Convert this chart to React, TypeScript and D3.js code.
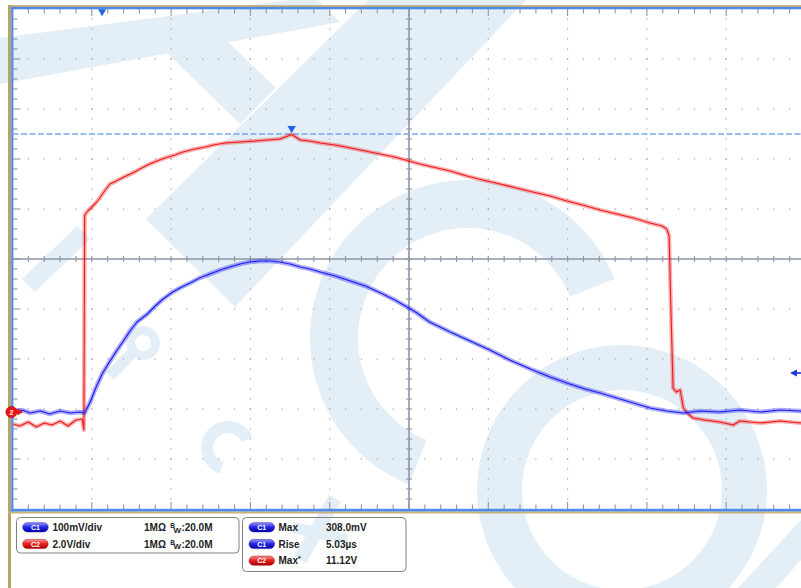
import React from 'react';
import * as d3 from 'd3';

// ---------------- data (time in divisions, C1 in mV, C2 in V) ----------------
const c1Trace: [number, number][] = [
  [0.01, 0], [0.12, 4], [0.22, -2], [0.35, 2], [0.47, -4], [0.6, 2], [0.73, -2], [0.85, 0], [0.91, -2],
  [0.98, 20], [1.05, 48], [1.13, 76], [1.23, 102], [1.32, 124], [1.39, 140], [1.48, 162], [1.57, 180],
  [1.7, 196], [1.8, 212], [1.9, 226], [2.02, 240], [2.11, 248], [2.24, 258], [2.36, 268], [2.49, 276],
  [2.62, 284], [2.74, 290], [2.87, 296], [2.99, 300], [3.12, 302], [3.25, 302], [3.37, 300], [3.5, 296],
  [3.63, 290], [3.75, 286], [3.88, 280], [4.07, 272], [4.26, 262], [4.45, 252], [4.67, 236], [4.82, 224],
  [5.0, 208], [5.1, 198], [5.26, 180], [5.52, 160], [5.77, 142], [6.02, 124], [6.27, 104], [6.56, 84],
  [6.78, 70], [6.99, 58], [7.22, 46], [7.41, 38], [7.62, 28], [7.83, 18], [8.04, 8], [8.25, 2],
  [8.46, -2], [8.67, 2], [8.92, 0], [9.17, 4], [9.43, 0], [9.68, 4], [9.93, 2], [10.0, 0],
];

const c2Trace: [number, number][] = [
  [0.01, -0.48], [0.09, -0.56], [0.2, -0.4], [0.3, -0.6], [0.4, -0.44], [0.5, -0.52], [0.6, -0.36],
  [0.7, -0.56], [0.8, -0.32], [0.88, -0.28], [0.9, -0.72], [0.91, 7.88], [0.95, 8.04], [1.0, 8.2],
  [1.05, 8.36], [1.1, 8.56], [1.17, 8.88], [1.23, 9.12], [1.31, 9.24], [1.38, 9.36], [1.46, 9.48],
  [1.54, 9.6], [1.63, 9.76], [1.73, 9.92], [1.82, 10.04], [1.92, 10.16], [2.05, 10.28], [2.15, 10.4],
  [2.3, 10.52], [2.43, 10.6], [2.53, 10.68], [2.68, 10.76], [2.87, 10.8], [3.06, 10.84], [3.21, 10.88],
  [3.37, 10.92], [3.52, 11.1], [3.63, 10.88], [3.75, 10.84], [3.88, 10.76], [4.07, 10.68], [4.26, 10.56],
  [4.45, 10.44], [4.63, 10.32], [4.82, 10.2], [5.0, 10.04], [5.14, 9.92], [5.3, 9.8], [5.52, 9.64],
  [5.73, 9.44], [5.93, 9.28], [6.15, 9.12], [6.36, 8.96], [6.56, 8.8], [6.78, 8.64], [6.99, 8.44],
  [7.19, 8.28], [7.41, 8.08], [7.62, 7.92], [7.83, 7.76], [8.04, 7.56], [8.19, 7.44], [8.25, 7.32],
  [8.28, 7.04], [8.3, 4.48], [8.33, 0.96], [8.37, 0.8], [8.42, 0.88], [8.46, 0.16], [8.52, -0.08],
  [8.58, -0.24], [8.73, -0.32], [8.92, -0.4], [9.09, -0.52], [9.17, -0.36], [9.43, -0.44], [9.68, -0.36],
  [9.93, -0.44], [10.0, -0.4],
];

const C1_PER_DIV = 100; // mV/div
const C2_PER_DIV = 2; // V/div
const TRIGGER_TIME_DIV = 1.13;
const TRIGGER_LEVEL_MV = 78;
const MAX_CURSOR_V = 11.12;
const MAX_TIME_DIV = 3.52;

const chLabels = ['C1', 'C2'];
const chScales = ['100mV/div', '2.0V/div'];
const chImpedance = ['1MΩ', '1MΩ'];
const chBandwidth = ['20.0M', '20.0M'];

const measChannels = ['C1', 'C1', 'C2'];
const measNames = ['Max', 'Rise', 'Max'];
const measStar = [false, false, true];
const measValues = ['308.0mV', '5.03µs', '11.12V'];

// ---------------- layout ----------------
const W = 801, H = 588;
const X0 = 12.5, DIV_W = 79.3, Y0 = 9, DIV_H = 50;
const X1 = X0 + 10 * DIV_W;
const Y1 = Y0 + 10 * DIV_H;
const GND_Y = 412;
const gndDiv = (GND_Y - Y0) / DIV_H;

const xScale = d3.scaleLinear().domain([0, 10]).range([X0, X1]);
const yC1 = d3.scaleLinear().domain([-(10 - gndDiv) * C1_PER_DIV, gndDiv * C1_PER_DIV]).range([Y1, Y0]);
const yC2 = d3.scaleLinear().domain([-(10 - gndDiv) * C2_PER_DIV, gndDiv * C2_PER_DIV]).range([Y1, Y0]);

const WM = '#e3eef7';
const GRID = '#8d96a6';
const DOT = '#a3a3a3';
const BLUE_TRACE = '#1c1cf0';
const RED_TRACE = '#f01818';
const FONT = "'Liberation Sans', Arial, sans-serif";

const rad = (a: number) => (a * Math.PI) / 180;

function Badge({ x, cy, ch }: { x: number; cy: number; ch: string }) {
  const grad = ch === 'C1' ? 'url(#gBlue)' : 'url(#gRed)';
  return (
    <g>
      <rect x={x} y={cy - 4.6} width={25.5} height={9.2} rx={4.6} fill={grad} stroke={ch === 'C1' ? '#1010a0' : '#a01010'} strokeWidth={0.5} />
      <text x={x + 12.75} y={cy + 2.6} fontSize={7} fontWeight="bold" fill="#fff" textAnchor="middle" fontFamily={FONT}>{ch}</text>
    </g>
  );
}

export default function App() {
  const arc = d3.arc();
  const line1 = d3.line<[number, number]>().x((d) => xScale(d[0])).y((d) => yC1(d[1]));
  const line2 = d3.line<[number, number]>().x((d) => xScale(d[0])).y((d) => yC2(d[1]));

  const ring = (r0: number, r1: number, a0: number, a1: number) =>
    (arc as any)({ innerRadius: r0, outerRadius: r1, startAngle: rad(a0), endAngle: rad(a1) }) as string;

  const poly = (pts: number[][]) => 'M' + pts.map((p) => p.join(',')).join('L') + 'Z';

  // grid dots
  const dots: JSX.Element[] = [];
  for (let i = 1; i < 10; i++) {
    if (i === 5) continue;
    for (let k = 1; k < 50; k++) {
      dots.push(<rect key={`v${i}-${k}`} x={xScale(i) - 0.6} y={Y0 + (k * DIV_H) / 5 - 0.6} width={1.2} height={1.2} fill={DOT} />);
      dots.push(<rect key={`h${i}-${k}`} x={X0 + (k * DIV_W) / 5 - 0.6} y={Y0 + i * DIV_H - 0.6} width={1.2} height={1.2} fill={DOT} />);
    }
  }
  // ticks
  const ticks: JSX.Element[] = [];
  const cx = xScale(5), cy = Y0 + 5 * DIV_H;
  for (let k = 1; k < 50; k++) {
    const tx = X0 + (k * DIV_W) / 5;
    const ty = Y0 + (k * DIV_H) / 5;
    const maj = k % 5 === 0;
    ticks.push(<line key={`t${k}`} x1={tx} x2={tx} y1={Y0} y2={Y0 + (maj ? 7 : 4.5)} />);
    ticks.push(<line key={`b${k}`} x1={tx} x2={tx} y1={Y1} y2={Y1 - (maj ? 7 : 4.5)} />);
    ticks.push(<line key={`l${k}`} x1={X0} x2={X0 + (maj ? 8 : 5)} y1={ty} y2={ty} />);
    ticks.push(<line key={`ch${k}`} x1={tx} x2={tx} y1={cy - 3} y2={cy + 3} />);
    ticks.push(<line key={`cv${k}`} x1={cx - 3} x2={cx + 3} y1={ty} y2={ty} />);
  }

  const rows1 = [527.3, 544];
  const rows2 = [527.3, 544, 560.7];

  return (
    <svg width={W} height={H} style={{ position: 'absolute', left: 0, top: 0, background: '#fff' }} fontFamily={FONT}>
      <defs>
        <linearGradient id="gBlue" x1="0" y1="0" x2="0" y2="1">
          <stop offset="0" stopColor="#9a9aff" />
          <stop offset="0.45" stopColor="#2a2ae8" />
          <stop offset="1" stopColor="#0000a8" />
        </linearGradient>
        <linearGradient id="gRed" x1="0" y1="0" x2="0" y2="1">
          <stop offset="0" stopColor="#ff9a9a" />
          <stop offset="0.45" stopColor="#ec2222" />
          <stop offset="1" stopColor="#a80000" />
        </linearGradient>
        <clipPath id="plotClip">
          <rect x={X0} y={Y0} width={X1 - X0} height={Y1 - Y0} />
        </clipPath>
      </defs>

      {/* watermark */}
      <g fill={WM} stroke="none">
        <path d={poly([[0, 38], [290, 0], [318, 0], [340, 22], [0, 84]])} />
        <path d={poly([[167, 53], [225, 39], [276, 88], [240, 124]])} />
        <path d={poly([[368, 0], [526, 0], [235, 307], [146, 219]])} />
        <path d={poly([[22, 279], [77, 226], [90, 239], [35, 292]])} />
        <path d={poly([[738, 588], [801, 520], [801, 560], [776, 588]])} />
        <path transform="translate(468,338)" d={ring(110, 158, 202, 428)} />
        <path transform="translate(622,490)" d={ring(100, 145, 0, 360)} />
        <path transform="translate(228,448)" d={ring(15, 27, 198, 426)} />
        <path transform="translate(143,343)" d={ring(8, 17, 0, 360)} />
        <path d={poly([[129, 348], [137, 356], [114, 380], [106, 372]])} />
        <path d={poly([[329, 495], [341, 502], [306, 563], [294, 556]])} />
        <path d={poly([[294, 522], [348, 534], [346, 545], [292, 533]])} />
      </g>

      {/* frame */}
      <rect x={8} y={5.3} width={W - 8} height={1.6} fill="#b9a265" />
      <rect x={8} y={5.3} width={3} height={H - 5.3} fill="#b9a265" />
      <rect x={8} y={511.5} width={W - 8} height={2} fill="#c6b27a" />

      {/* grid */}
      <g>{dots}</g>
      <g stroke={GRID} strokeWidth={1.1}>{ticks}</g>
      <line x1={cx} x2={cx} y1={Y0} y2={Y1} stroke={GRID} strokeWidth={1.6} />
      <line x1={X0} x2={X1} y1={cy} y2={cy} stroke={GRID} strokeWidth={1.6} />

      {/* border */}
      <rect x={11.2} y={6.9} width={W} height={2.4} fill="#4f8ae8" />
      <rect x={11.2} y={6.9} width={2.2} height={Y1 - 6.9 + 2.5} fill="#4f8ae8" />
      <rect x={11.2} y={508.8} width={W} height={2.7} fill="#4f8ae8" />

      {/* cursor */}
      <line x1={X0} x2={W} y1={yC2(MAX_CURSOR_V)} y2={yC2(MAX_CURSOR_V)} stroke="#78a6f0" strokeWidth={1.6} strokeDasharray="6 2.5" />

      {/* traces */}
      <g clipPath="url(#plotClip)" fill="none" strokeLinejoin="round">
        <path d={line2(c2Trace) || ''} stroke={RED_TRACE} strokeWidth={4.2} strokeOpacity={0.34} />
        <path d={line2(c2Trace) || ''} stroke={RED_TRACE} strokeWidth={1.1} />
        <path d={line1(c1Trace) || ''} stroke={BLUE_TRACE} strokeWidth={4.6} strokeOpacity={0.36} />
        <path d={line1(c1Trace) || ''} stroke={BLUE_TRACE} strokeWidth={1.2} />
      </g>

      {/* markers */}
      {(() => {
        const tx = xScale(TRIGGER_TIME_DIV);
        const mx = xScale(MAX_TIME_DIV);
        const my = yC2(MAX_CURSOR_V);
        const ty = yC1(TRIGGER_LEVEL_MV);
        return (
          <g>
            <path d={`M${tx - 4},9.3L${tx + 4},9.3L${tx},16.2Z`} fill="#1e62e6" />
            <path d={`M${mx - 4.2},${my - 8}L${mx + 4.2},${my - 8}L${mx},${my - 1}Z`} fill="#1e62e6" />
            <path d={`M790,${ty}L797,${ty - 3.5}L797,${ty + 3.5}Z`} fill="#1a35dc" />
            <line x1={796} x2={W} y1={ty} y2={ty} stroke="#1a35dc" strokeWidth={1.6} />
            <line x1={15} x2={18} y1={GND_Y} y2={GND_Y} stroke="#ee1111" strokeWidth={1.5} />
            <path d={`M17.5,${GND_Y - 3.5}L23,${GND_Y}L17.5,${GND_Y + 3.5}Z`} fill="#ee1111" />
            <circle cx={11.5} cy={GND_Y} r={5.6} fill="#ee1111" stroke="#b00000" strokeWidth={0.6} />
            <text x={11.5} y={GND_Y + 2.6} fontSize={7} fontWeight="bold" fill="#fff" textAnchor="middle">2</text>
          </g>
        );
      })()}

      {/* info panels */}
      <rect x={16.5} y={517.5} width={222.5} height={35.5} rx={4} fill="none" stroke="#808080" strokeWidth={1} />
      <rect x={242.5} y={517.5} width={163.5} height={54} rx={4} fill="none" stroke="#808080" strokeWidth={1} />
      <g fontSize={10} fontWeight="bold" fill="#222">
        {chLabels.map((ch, i) => (
          <g key={ch}>
            <Badge x={22.7} cy={rows1[i]} ch={ch} />
            <text x={52.5} y={rows1[i] + 3.6}>{chScales[i]}</text>
            <text x={144} y={rows1[i] + 3.6}>{chImpedance[i]}</text>
            <text x={170.3} y={rows1[i] + 1} fontSize={6.5}>B</text>
            <text x={173.6} y={rows1[i] + 5.4} fontSize={8}>W</text>
            <text x={181.4} y={rows1[i] + 3.6}>{':' + chBandwidth[i]}</text>
          </g>
        ))}
        {measChannels.map((ch, i) => (
          <g key={'m' + i}>
            <Badge x={249} cy={rows2[i]} ch={ch} />
            <text x={278.5} y={rows2[i] + 3.6}>
              {measNames[i]}
              {measStar[i] ? <tspan fontSize={7} dy={-3.5}>*</tspan> : null}
            </text>
            <text x={326} y={rows2[i] + 3.6}>{measValues[i]}</text>
          </g>
        ))}
      </g>
    </svg>
  );
}
